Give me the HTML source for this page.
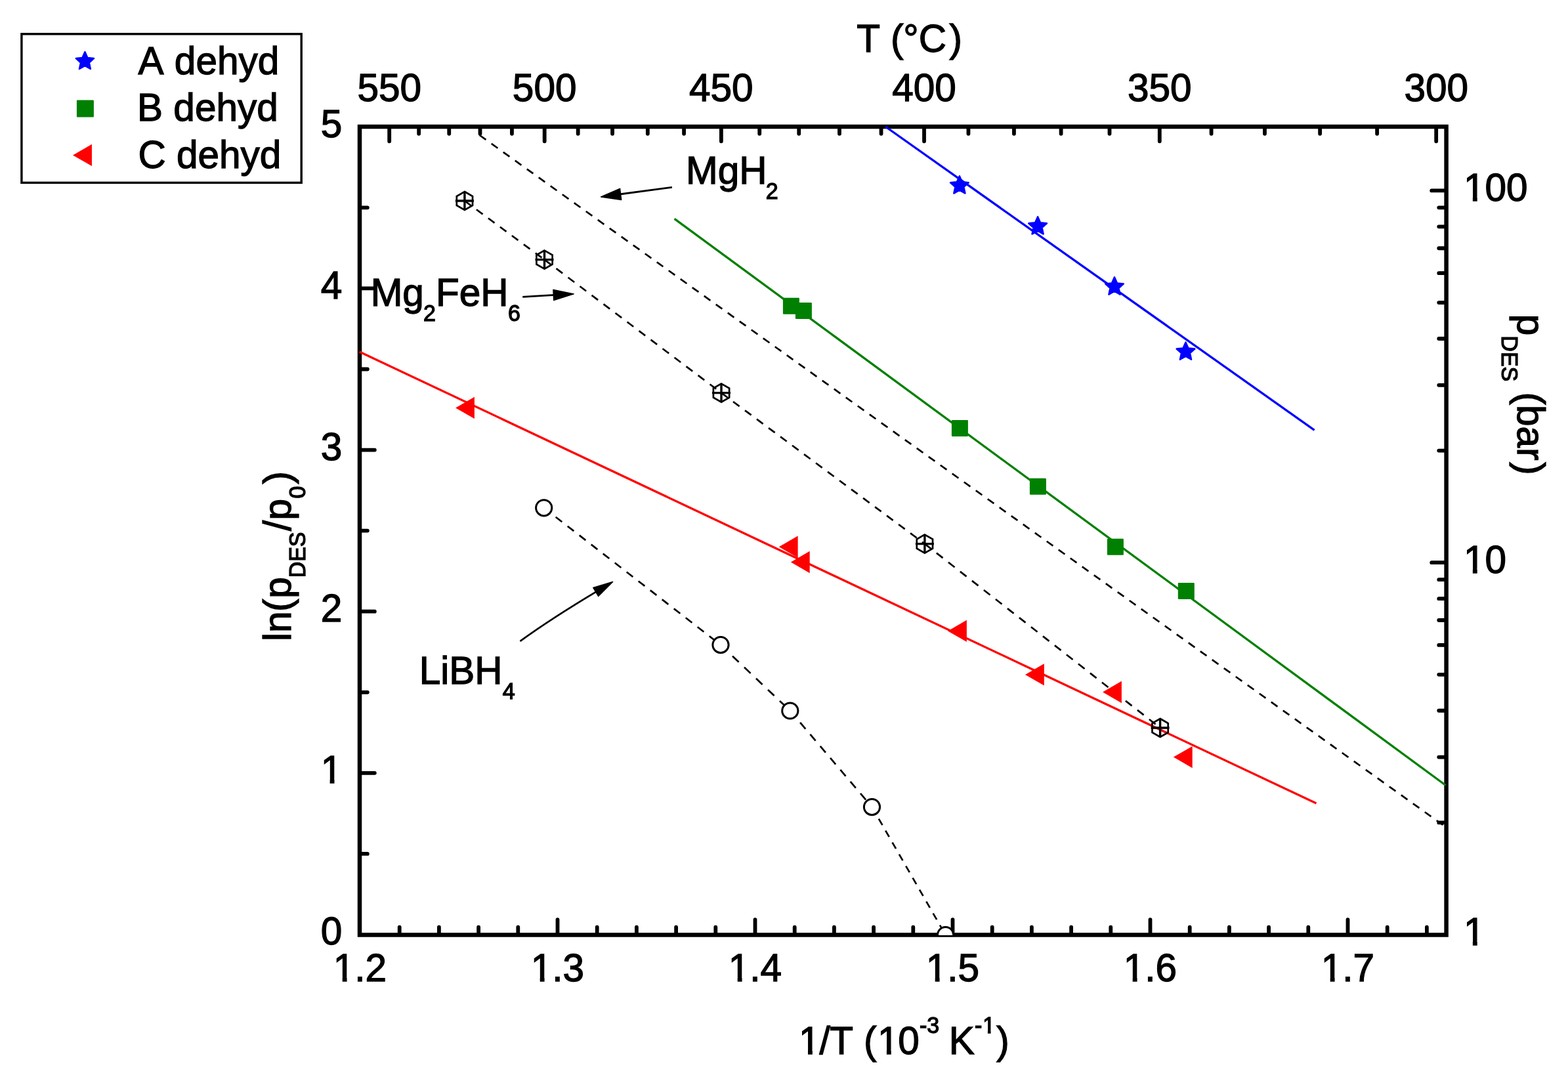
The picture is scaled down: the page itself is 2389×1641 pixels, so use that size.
<!DOCTYPE html>
<html><head><meta charset="utf-8"><title>ln(p) vs 1/T</title>
<style>
html,body{margin:0;padding:0;background:#fff;}
body{width:2389px;height:1641px;overflow:hidden;}
svg{display:block;}
text{stroke:#000;stroke-width:1.3px;paint-order:stroke;font-kerning:none;}
</style></head><body>
<svg width="2389" height="1641" viewBox="0 0 2389 1641" font-family="'Liberation Sans', Arial, sans-serif" fill="#000" stroke-linejoin="miter">
<path d="M608.70,1423.5 V1412.65 M668.90,1423.5 V1412.65 M729.10,1423.5 V1412.65 M789.30,1423.5 V1412.65 M849.50,1423.5 V1401.15 M909.70,1423.5 V1412.65 M969.90,1423.5 V1412.65 M1030.10,1423.5 V1412.65 M1090.30,1423.5 V1412.65 M1150.50,1423.5 V1401.15 M1210.70,1423.5 V1412.65 M1270.90,1423.5 V1412.65 M1331.10,1423.5 V1412.65 M1391.30,1423.5 V1412.65 M1451.50,1423.5 V1401.15 M1511.70,1423.5 V1412.65 M1571.90,1423.5 V1412.65 M1632.10,1423.5 V1412.65 M1692.30,1423.5 V1412.65 M1752.50,1423.5 V1401.15 M1812.70,1423.5 V1412.65 M1872.90,1423.5 V1412.65 M1933.10,1423.5 V1412.65 M1993.30,1423.5 V1412.65 M2053.50,1423.5 V1401.15 M2113.70,1423.5 V1412.65 M2173.90,1423.5 V1412.65 M549.0,1300.92 H559.85 M549.0,1177.85 H570.85 M549.0,1054.78 H559.85 M549.0,931.70 H570.85 M549.0,808.62 H559.85 M549.0,685.55 H570.85 M549.0,562.48 H559.85 M549.0,439.40 H570.85 M549.0,316.33 H559.85 M593.18,194.0 V215.35 M638.15,194.0 V203.85 M684.24,194.0 V203.85 M731.49,194.0 V203.85 M779.95,194.0 V203.85 M829.66,194.0 V215.35 M880.68,194.0 V203.85 M933.05,194.0 V203.85 M986.83,194.0 V203.85 M1042.07,194.0 V203.85 M1098.85,194.0 V215.35 M1157.21,194.0 V203.85 M1217.24,194.0 V203.85 M1278.99,194.0 V203.85 M1342.56,194.0 V203.85 M1408.01,194.0 V215.35 M1475.44,194.0 V203.85 M1544.94,194.0 V203.85 M1616.59,194.0 V203.85 M1690.51,194.0 V203.85 M1766.80,194.0 V215.35 M1845.58,194.0 V203.85 M1926.97,194.0 V203.85 M2011.10,194.0 V203.85 M2098.12,194.0 V203.85 M2188.18,194.0 V215.35 M2202.6,1253.38 H2192.25 M2202.6,1153.58 H2192.25 M2202.6,1082.76 H2192.25 M2202.6,1027.84 H2192.25 M2202.6,982.96 H2192.25 M2202.6,945.01 H2192.25 M2202.6,912.15 H2192.25 M2202.6,883.15 H2192.25 M2202.6,857.22 H2181.25 M2202.6,686.60 H2192.25 M2202.6,586.80 H2192.25 M2202.6,515.98 H2192.25 M2202.6,461.06 H2192.25 M2202.6,416.18 H2192.25 M2202.6,378.23 H2192.25 M2202.6,345.36 H2192.25 M2202.6,316.37 H2192.25 M2202.6,290.44 H2181.25" stroke="#000" stroke-width="5.8" fill="none" stroke-linecap="round"/>
<rect x="548.0" y="193.0" width="1655.60" height="1231.50" fill="none" stroke="#000" stroke-width="6.5"/>
<g><text transform="translate(548.50,1495.40) scale(1,1.01)" font-size="58.5" text-anchor="middle" >1.2</text><text transform="translate(849.50,1495.40) scale(1,1.01)" font-size="58.5" text-anchor="middle" >1.3</text><text transform="translate(1150.50,1495.40) scale(1,1.01)" font-size="58.5" text-anchor="middle" >1.4</text><text transform="translate(1451.50,1495.40) scale(1,1.01)" font-size="58.5" text-anchor="middle" >1.5</text><text transform="translate(1752.50,1495.40) scale(1,1.01)" font-size="58.5" text-anchor="middle" >1.6</text><text transform="translate(2053.50,1495.40) scale(1,1.01)" font-size="58.5" text-anchor="middle" >1.7</text><text transform="translate(521.30,1439.40) scale(1,1.01)" font-size="58.5" text-anchor="end" >0</text><text transform="translate(521.30,1193.25) scale(1,1.01)" font-size="58.5" text-anchor="end" >1</text><text transform="translate(521.30,947.10) scale(1,1.01)" font-size="58.5" text-anchor="end" >2</text><text transform="translate(521.30,700.95) scale(1,1.01)" font-size="58.5" text-anchor="end" >3</text><text transform="translate(521.30,454.80) scale(1,1.01)" font-size="58.5" text-anchor="end" >4</text><text transform="translate(521.30,208.65) scale(1,1.01)" font-size="58.5" text-anchor="end" >5</text><text transform="translate(593.18,154.20) scale(1,1.01)" font-size="58.5" text-anchor="middle" >550</text><text transform="translate(829.66,154.20) scale(1,1.01)" font-size="58.5" text-anchor="middle" >500</text><text transform="translate(1098.85,154.20) scale(1,1.01)" font-size="58.5" text-anchor="middle" >450</text><text transform="translate(1408.01,154.20) scale(1,1.01)" font-size="58.5" text-anchor="middle" >400</text><text transform="translate(1766.80,154.20) scale(1,1.01)" font-size="58.5" text-anchor="middle" >350</text><text transform="translate(2188.18,154.20) scale(1,1.01)" font-size="58.5" text-anchor="middle" >300</text><text transform="translate(2230.00,1439.60) scale(1,1.01)" font-size="58.5" text-anchor="start" >1</text><text transform="translate(2230.00,872.82) scale(1,1.01)" font-size="58.5" text-anchor="start" >10</text><text transform="translate(2230.00,306.04) scale(1,1.01)" font-size="58.5" text-anchor="start" >100</text></g>
<text transform="scale(1,1.01)" ><tspan x="1217.12" y="1589.90" font-size="58.5">1</tspan><tspan x="1248.55" y="1589.90" font-size="58.5">/</tspan><tspan x="1264.34" y="1589.90" font-size="58.5">T</tspan><tspan x="1316.02" y="1589.90" font-size="58.5">(</tspan><tspan x="1337.02" y="1589.90" font-size="58.5">1</tspan><tspan x="1368.16" y="1589.90" font-size="58.5">0</tspan><tspan x="1400.94" y="1558.42" font-size="34.0">-</tspan><tspan x="1412.36" y="1558.42" font-size="34.0">3</tspan><tspan x="1445.85" y="1589.90" font-size="58.5">K</tspan><tspan x="1484.94" y="1558.42" font-size="34.0">-</tspan><tspan x="1497.18" y="1558.42" font-size="34.0">1</tspan><tspan x="1518.21" y="1589.90" font-size="58.5">)</tspan></text>
<text transform="scale(1,1.01)" ><tspan x="1305.14" y="78.22" font-size="58.5">T</tspan><tspan x="1357.02" y="78.22" font-size="58.5">(</tspan><tspan x="1376.17" y="78.22" font-size="58.5">°</tspan><tspan x="1399.88" y="78.22" font-size="58.5">C</tspan><tspan x="1446.41" y="78.22" font-size="58.5">)</tspan></text>
<g transform="translate(442.8,978) rotate(-90)"><text transform="scale(1,1.01)" ><tspan x="0.91" y="0.00" font-size="58.5">ln</tspan><tspan x="46.12" y="0.00" font-size="58.5">(</tspan><tspan x="66.28" y="0.00" font-size="58.5">p</tspan><tspan x="97.66" y="21.78" font-size="34.0">DES</tspan><tspan x="168.95" y="0.00" font-size="58.5">/</tspan><tspan x="185.48" y="0.00" font-size="58.5">p</tspan><tspan x="218.42" y="21.78" font-size="34.0">0</tspan><tspan x="240.51" y="0.00" font-size="58.5">)</tspan></text></g>
<g transform="translate(2311.6,478) rotate(90)"><text transform="scale(1,1.01)" ><tspan x="0.78" y="0.00" font-size="58.5">p</tspan><tspan x="33.36" y="23.27" font-size="34.0">DES</tspan><tspan x="119.42" y="0.00" font-size="58.5">(</tspan><tspan x="138.98" y="0.00" font-size="58.5">bar</tspan><tspan x="226.31" y="0.00" font-size="58.5">)</tspan></text></g>
<path d="M730.75,206.01 L2203.00,1260.29" stroke="#000" stroke-width="2.7" stroke-dasharray="11.81 10.33" fill="none"/>
<path d="M707.90,306.00 L829.50,395.60" stroke="#000" stroke-width="2.7" stroke-dasharray="11.92 10.43" fill="none"/><path d="M829.50,395.60 L1099.00,598.60" stroke="#000" stroke-width="2.7" stroke-dasharray="12.02 10.52" fill="none"/><path d="M1099.00,598.60 L1408.90,828.60" stroke="#000" stroke-width="2.7" stroke-dasharray="11.96 10.46" fill="none"/><path d="M1408.90,828.60 L1767.60,1109.00" stroke="#000" stroke-width="2.7" stroke-dasharray="12.19 10.66" fill="none"/>
<path d="M828.70,773.80 L1098.00,982.60" stroke="#000" stroke-width="2.7" stroke-dasharray="12.15 10.63" fill="none"/><path d="M1098.00,982.60 L1203.80,1083.00" stroke="#000" stroke-width="2.7" stroke-dasharray="13.23 11.58" fill="none"/><path d="M1203.80,1083.00 L1328.50,1229.60" stroke="#000" stroke-width="2.7" stroke-dasharray="12.60 11.03" fill="none"/><path d="M1328.50,1229.60 L1440.60,1424.50" stroke="#000" stroke-width="2.7" stroke-dasharray="11.07 9.69" fill="none"/>
<path d="M1349.2,193.0 L2002.6,655.4" stroke="#0000ff" stroke-width="3.3" fill="none"/>
<path d="M1027.6,333.3 L2202.6,1196.5" stroke="#008000" stroke-width="3.3" fill="none"/>
<path d="M547.7,535.9 L2005.5,1224.1" stroke="#ff0000" stroke-width="3.3" fill="none"/>
<g fill="#0000ff" stroke="#0000ff" stroke-width="2.4" stroke-linejoin="round"><polygon points="1461.90,268.20 1465.93,277.25 1475.79,278.29 1468.43,284.92 1470.48,294.61 1461.90,289.66 1453.32,294.61 1455.37,284.92 1448.01,278.29 1457.87,277.25"/><polygon points="1581.10,330.20 1585.13,339.25 1594.99,340.29 1587.63,346.92 1589.68,356.61 1581.10,351.66 1572.52,356.61 1574.57,346.92 1567.21,340.29 1577.07,339.25"/><polygon points="1698.00,422.30 1702.03,431.35 1711.89,432.39 1704.53,439.02 1706.58,448.71 1698.00,443.76 1689.42,448.71 1691.47,439.02 1684.11,432.39 1693.97,431.35"/><polygon points="1806.50,521.40 1810.53,530.45 1820.39,531.49 1813.03,538.12 1815.08,547.81 1806.50,542.86 1797.92,547.81 1799.97,538.12 1792.61,531.49 1802.47,530.45"/></g>
<g fill="#008000"><rect x="1192.90" y="453.80" width="25" height="25" rx="1.2"/><rect x="1211.90" y="460.90" width="25" height="25" rx="1.2"/><rect x="1449.90" y="640.00" width="25" height="25" rx="1.2"/><rect x="1568.90" y="728.80" width="25" height="25" rx="1.2"/><rect x="1686.90" y="820.70" width="25" height="25" rx="1.2"/><rect x="1794.80" y="887.90" width="25" height="25" rx="1.2"/></g>
<g fill="#ff0000"><polygon points="694.10,621.40 722.90,604.77 722.90,638.03"/><polygon points="1186.80,833.20 1215.60,816.57 1215.60,849.83"/><polygon points="1204.90,856.50 1233.70,839.87 1233.70,873.13"/><polygon points="1444.10,961.40 1472.90,944.77 1472.90,978.03"/><polygon points="1562.00,1027.90 1590.80,1011.27 1590.80,1044.53"/><polygon points="1680.10,1054.50 1708.90,1037.87 1708.90,1071.13"/><polygon points="1787.90,1153.60 1816.70,1136.97 1816.70,1170.23"/></g>
<g stroke="#000" stroke-width="2.7" fill="none"><polygon points="707.90,292.00 720.02,299.00 720.02,313.00 707.90,320.00 695.78,313.00 695.78,299.00" fill="none"/><path d="M707.90,292.00 V320.00 M693.90,306.00 H721.90" stroke-width="3.4"/><polygon points="829.50,381.60 841.62,388.60 841.62,402.60 829.50,409.60 817.38,402.60 817.38,388.60" fill="none"/><path d="M829.50,381.60 V409.60 M815.50,395.60 H843.50" stroke-width="3.4"/><polygon points="1099.00,584.60 1111.12,591.60 1111.12,605.60 1099.00,612.60 1086.88,605.60 1086.88,591.60" fill="none"/><path d="M1099.00,584.60 V612.60 M1085.00,598.60 H1113.00" stroke-width="3.4"/><polygon points="1408.90,814.60 1421.02,821.60 1421.02,835.60 1408.90,842.60 1396.78,835.60 1396.78,821.60" fill="none"/><path d="M1408.90,814.60 V842.60 M1394.90,828.60 H1422.90" stroke-width="3.4"/><polygon points="1767.60,1095.00 1779.72,1102.00 1779.72,1116.00 1767.60,1123.00 1755.48,1116.00 1755.48,1102.00" fill="none"/><path d="M1767.60,1095.00 V1123.00 M1753.60,1109.00 H1781.60" stroke-width="3.4"/></g>
<clipPath id="pc"><rect x="0" y="0" width="2389" height="1425"/></clipPath>
<g stroke="#000" stroke-width="3" fill="#fff" clip-path="url(#pc)"><circle cx="828.7" cy="773.8" r="12.1"/><circle cx="1098.0" cy="982.6" r="12.1"/><circle cx="1203.8" cy="1083.0" r="12.1"/><circle cx="1328.5" cy="1229.6" r="12.1"/><circle cx="1440.6" cy="1424.5" r="12.1"/></g>
<path d="M1023.9,285.4 L944,296" stroke="#000" stroke-width="2.8" fill="none"/>
<polygon points="915.6,299.9 944.5,287.4 946.7,304.4" fill="#000" stroke="#000" stroke-width="1.5" stroke-linejoin="round"/>
<path d="M796.2,452.4 L846,449.4" stroke="#000" stroke-width="2.8" fill="none"/>
<polygon points="874.2,447.9 843.7,457.5 842.9,441.5" fill="#000" stroke="#000" stroke-width="1.5" stroke-linejoin="round"/>
<path d="M793.3,976.3 Q841.3,941.7 910,900.6" stroke="#000" stroke-width="2.8" fill="none" stroke-linecap="round"/>
<polygon points="933.6,886.4 911.6,908.4 903.8,895.4" fill="#000" stroke="#000" stroke-width="1.5" stroke-linejoin="round"/>
<text transform="scale(1,1.01)" ><tspan x="1044.95" y="277.23" font-size="58.5">MgH</tspan><tspan x="1166.74" y="300.20" font-size="34.0">2</tspan></text>
<text transform="scale(1,1.01)" ><tspan x="564.65" y="461.19" font-size="58.5">Mg</tspan><tspan x="645.04" y="484.06" font-size="34.0">2</tspan><tspan x="664.05" y="461.19" font-size="58.5">FeH</tspan><tspan x="774.12" y="484.06" font-size="34.0">6</tspan></text>
<text transform="scale(1,1.01)" ><tspan x="638.75" y="1031.68" font-size="58.5">LiBH</tspan><tspan x="765.67" y="1054.36" font-size="34.0">4</tspan></text>
<rect x="32.9" y="51.8" width="426.3" height="226.6" fill="none" stroke="#000" stroke-width="3.4"/>
<g fill="#0000ff" stroke="#0000ff" stroke-width="2.4" stroke-linejoin="round"><polygon points="129.40,79.00 133.38,87.92 143.10,88.95 135.84,95.49 137.86,105.05 129.40,100.17 120.94,105.05 122.96,95.49 115.70,88.95 125.42,87.92"/></g>
<g fill="#008000"><rect x="116.90" y="152.40" width="26" height="26" rx="1.2"/></g>
<g fill="#ff0000"><polygon points="111.00,236.40 139.95,219.69 139.95,253.11"/></g>
<text transform="translate(210.60,112.80) scale(1,1.01)" font-size="58.5" text-anchor="start" >A dehyd</text>
<text transform="translate(209.10,184.00) scale(1,1.01)" font-size="58.5" text-anchor="start" >B dehyd</text>
<text transform="translate(210.40,256.10) scale(1,1.01)" font-size="58.5" text-anchor="start" >C dehyd</text>
<g fill="#fff"><rect x="510.04" y="1489.44" width="11.65" height="7.61"/><rect x="528.57" y="1489.44" width="11.20" height="7.61"/><rect x="811.04" y="1489.44" width="11.65" height="7.61"/><rect x="829.57" y="1489.44" width="11.20" height="7.61"/><rect x="1112.04" y="1489.44" width="11.65" height="7.61"/><rect x="1130.57" y="1489.44" width="11.20" height="7.61"/><rect x="1413.04" y="1489.44" width="11.65" height="7.61"/><rect x="1431.57" y="1489.44" width="11.20" height="7.61"/><rect x="1714.04" y="1489.44" width="11.65" height="7.61"/><rect x="1732.57" y="1489.44" width="11.20" height="7.61"/><rect x="2015.04" y="1489.44" width="11.65" height="7.61"/><rect x="2033.57" y="1489.44" width="11.20" height="7.61"/><rect x="490.97" y="1187.29" width="11.65" height="7.61"/><rect x="509.50" y="1187.29" width="11.20" height="7.61"/><rect x="2232.21" y="1433.64" width="11.65" height="7.61"/><rect x="2250.73" y="1433.64" width="11.20" height="7.61"/><rect x="2232.21" y="866.85" width="11.65" height="7.61"/><rect x="2250.73" y="866.85" width="11.20" height="7.61"/><rect x="2232.21" y="300.07" width="11.65" height="7.61"/><rect x="2250.73" y="300.07" width="11.20" height="7.61"/><rect x="1219.33" y="1599.84" width="11.65" height="7.61"/><rect x="1237.85" y="1599.84" width="9.80" height="7.61"/><rect x="1339.23" y="1599.84" width="11.65" height="7.61"/><rect x="1357.75" y="1599.84" width="11.20" height="7.61"/><rect x="1497.52" y="1569.88" width="7.36" height="5.77"/><rect x="1509.58" y="1569.88" width="7.09" height="5.77"/></g></svg>
</body></html>
